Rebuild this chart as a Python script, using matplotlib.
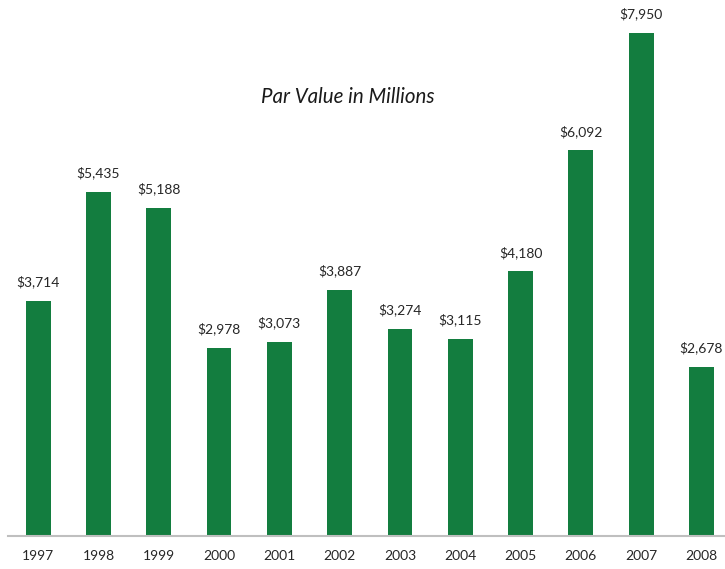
import matplotlib
matplotlib.use("Agg")
import matplotlib.pyplot as plt

years = ["1997", "1998", "1999", "2000", "2001", "2002",
         "2003", "2004", "2005", "2006", "2007", "2008"]
par_value = [3714, 5435, 5188, 2978, 3073, 3887, 3274, 3115, 4180, 6092, 7950, 2678]

plt.rcParams['font.family'] = ['Lato', 'DejaVu Sans']

fig = plt.figure(figsize=(7.25, 5.69), dpi=100)
ax = fig.add_axes([8 / 725, 33 / 569, 723.6 / 725, 536 / 569])

x = range(len(years))
bars = ax.bar(x, par_value, width=0.41, color="#137D3F", zorder=2)

for xi, v in zip(x, par_value):
    ax.annotate("${:,}".format(v), (xi, v), xytext=(0, 9), textcoords="offset points",
                ha="center", va="bottom", fontsize=10, color="#262626")

ax.set_xlim(-0.5, 11.5)
ax.set_ylim(0, 8470)
ax.set_xticks(list(x))
ax.set_xticklabels(years, fontsize=10, color="#262626")
ax.tick_params(axis="x", length=0, pad=10)
ax.set_yticks([])
for s in ["top", "right", "left"]:
    ax.spines[s].set_visible(False)
ax.spines["bottom"].set_color("#BFBFBF")
ax.spines["bottom"].set_linewidth(1.5)

ax.text((348 - 8) / 723.6, 1 - 97 / 536, "Par Value in Millions",
        transform=ax.transAxes, ha="center", va="center",
        fontsize=14.8, style="italic", color="#1a1a1a")

fig.savefig("out.png", dpi=100)
